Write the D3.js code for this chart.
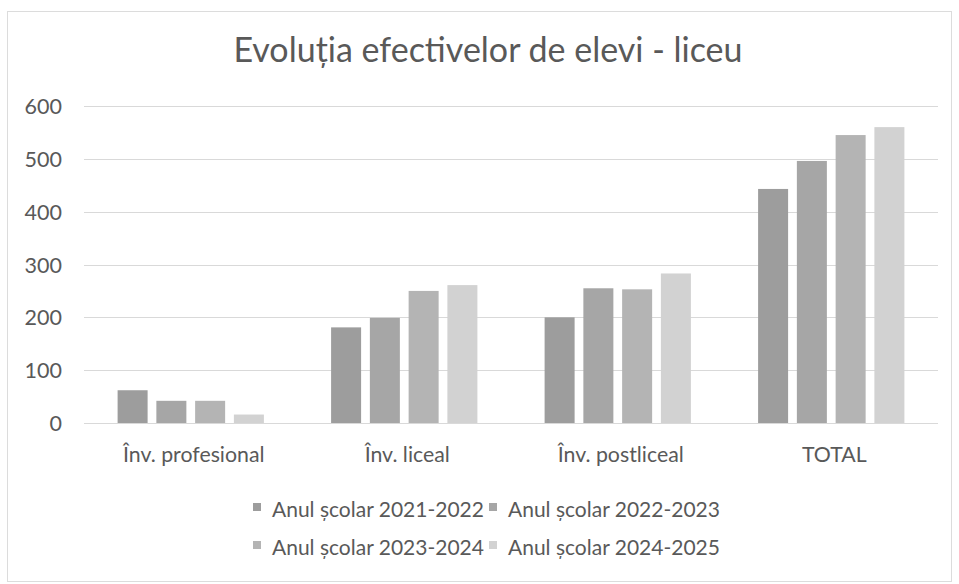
<!DOCTYPE html>
<html>
<head>
<meta charset="utf-8">
<script src="https://cdn.jsdelivr.net/npm/d3@7"></script>
<style>
  html, body { margin: 0; padding: 0; background: #ffffff; }
  svg { display: block; }
  text { font-family: Lato, "Open Sans", "Noto Sans", sans-serif; fill: #595959; }
</style>
</head>
<body>
<svg id="chart" width="959" height="584"></svg>
<script>
const title = "Evoluția efectivelor de elevi - liceu";
const categories = ["Înv. profesional", "Înv. liceal", "Înv. postliceal", "TOTAL"];
const seriesNames = ["Anul școlar 2021-2022", "Anul școlar 2022-2023", "Anul școlar 2023-2024", "Anul școlar 2024-2025"];
const s2021 = [62, 181, 200, 443];
const s2022 = [42, 199, 255, 496];
const s2023 = [42, 250, 253, 545];
const s2024 = [16, 261, 283, 560];
const seriesValues = [s2021, s2022, s2023, s2024];
const yTicks = [0, 100, 200, 300, 400, 500, 600];
const colors = ["#9d9d9d", "#a6a6a6", "#b4b4b4", "#d2d2d2"];

const svg = d3.select("#chart");
const plot = { left: 84, right: 938, top: 106, bottom: 423 };

// chart border
svg.append("rect").attr("x", 7.5).attr("y", 11.5).attr("width", 944).attr("height", 570)
  .attr("fill", "none").attr("stroke", "#dcdcdc").attr("stroke-width", 1);

// title
svg.append("text").attr("x", 488).attr("y", 62).attr("text-anchor", "middle")
  .style("font-size", "34px").style("fill", "#595959").text(title);

const x0 = d3.scaleBand().domain(categories).range([plot.left, plot.right]).paddingInner(0).paddingOuter(0);
const outerPad = 33.6;
const x1 = d3.scaleBand().domain(d3.range(seriesNames.length))
  .range([outerPad, x0.bandwidth() - outerPad]).paddingInner(0.226).paddingOuter(0);
const y = d3.scaleLinear().domain([0, 600]).range([plot.bottom, plot.top]);

// gridlines
svg.append("g").selectAll("line").data(yTicks).join("line")
  .attr("x1", plot.left).attr("x2", plot.right)
  .attr("y1", d => Math.round(y(d)) + 0.5).attr("y2", d => Math.round(y(d)) + 0.5)
  .attr("stroke", "#d9d9d9").attr("stroke-width", 1);

// y axis labels
const yAxis = d3.axisLeft(y).tickValues(yTicks).tickSize(0).tickPadding(0).tickFormat(d3.format("d"));
const gy = svg.append("g").attr("transform", `translate(62,0)`).call(yAxis);
gy.select(".domain").remove();
gy.selectAll("text").style("font-size", "21.5px").style("fill", "#595959").style("font-family", "Lato, sans-serif").attr("dy", "0.35em");

// bars
const table = categories.map((c, i) => ({ cat: c, vals: seriesValues.map((s, k) => ({ k, v: s[i] })) }));
const groups = svg.append("g").selectAll("g").data(table).join("g")
  .attr("transform", d => `translate(${x0(d.cat)},0)`);
groups.selectAll("rect").data(d => d.vals).join("rect")
  .attr("x", d => x1(d.k)).attr("width", x1.bandwidth())
  .attr("y", d => y(d.v)).attr("height", d => y(0) - y(d.v))
  .attr("fill", d => colors[d.k]);

// x axis labels
const xAxis = d3.axisBottom(x0).tickSize(0).tickPadding(0);
const gx = svg.append("g").attr("transform", `translate(3,${plot.bottom})`).call(xAxis);
gx.select(".domain").remove();
gx.selectAll("text").attr("dy", null).attr("y", 39).style("font-size", "21.3px")
  .style("fill", "#595959").style("font-family", "Lato, sans-serif");

// legend
const legendPos = [[253, 517], [489, 517], [253, 555], [489, 555]];
const lg = svg.append("g").selectAll("g").data(seriesNames).join("g")
  .attr("transform", (d, i) => `translate(${legendPos[i][0]},${legendPos[i][1]})`);
lg.append("rect").attr("x", 0).attr("y", -14).attr("width", 8).attr("height", 8)
  .attr("fill", (d, i) => colors[i]);
lg.append("text").attr("x", 19).attr("y", 0).style("font-size", "21px").text(d => d);
</script>
</body>
</html>
